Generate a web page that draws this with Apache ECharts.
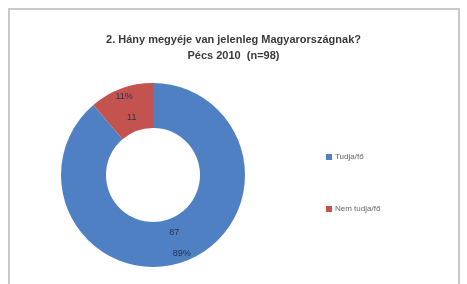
<!DOCTYPE html>
<html>
<head>
<meta charset="utf-8">
<script src="https://cdn.jsdelivr.net/npm/echarts@6/dist/echarts.min.js"></script>
<style>
  html, body { margin: 0; padding: 0; background: #fff; }
  #chart { width: 467px; height: 284px; }
</style>
</head>
<body>
<div id="chart"></div>
<script>
var categories = ['Tudja/fő', 'Nem tudja/fő'];
var counts = [87, 11];
var colors = ['#4f80c4', '#c4534f'];

var chart = echarts.init(document.getElementById('chart'));

function ring_data() {
    return categories.map(function (name, i) {
        return { name: name, value: counts[i] };
    });
}

var label_style = {
    show: true,
    position: 'inside',
    color: '#25344f',
    fontSize: 9,
    fontFamily: 'Liberation Sans'
};

chart.setOption({
    animation: false,
    color: colors,
    title: {
        text: '2. Hány megyéje van jelenleg Magyarországnak?\nPécs 2010  (n=98)',
        left: 'center',
        top: 27,
        textStyle: {
            fontSize: 11,
            fontWeight: 'bold',
            fontFamily: 'Liberation Sans',
            color: '#3a3a3a',
            lineHeight: 16
        }
    },
    legend: {
        orient: 'vertical',
        left: 321,
        top: 148,
        icon: 'rect',
        itemWidth: 6,
        itemHeight: 6,
        itemGap: 44,
        textStyle: { fontSize: 8, color: '#666', fontFamily: 'Liberation Sans', padding: [0, 0, 0, -2] },
        data: categories
    },
    graphic: [{
        type: 'rect',
        shape: { x: 9, y: 9, width: 450, height: 300 },
        style: { fill: 'none', stroke: '#c9c9c9', lineWidth: 2 },
        silent: true
    }],
    series: [
        // outer ring: percentages
        {
            type: 'pie',
            center: [153, 175],
            radius: [69, 92],
            startAngle: 90,
            z: 1,
            label: Object.assign({ formatter: '{d}%' }, label_style),
            labelLine: { show: false },
            percentPrecision: 0,
            itemStyle: { borderWidth: 0 },
            data: ring_data()
        },
        // inner ring: counts
        {
            type: 'pie',
            center: [153, 175],
            radius: [47, 70],
            startAngle: 90,
            z: 2,
            label: Object.assign({ formatter: '{c}' }, label_style),
            labelLine: { show: false },
            itemStyle: { borderWidth: 0 },
            data: ring_data()
        }
    ]
});
</script>
</body>
</html>
